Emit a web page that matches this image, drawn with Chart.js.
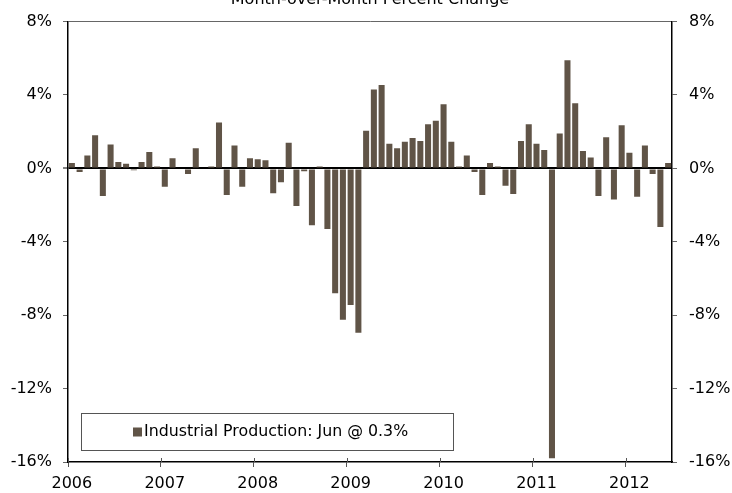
<!DOCTYPE html>
<html>
<head>
<meta charset="utf-8">
<script src="https://cdn.jsdelivr.net/npm/chart.js@4.4.1/dist/chart.umd.min.js"></script>
<style>
html,body{margin:0;padding:0;background:#fff;}
#wrap{width:732px;height:493px;position:relative;}
</style>
</head>
<body>
<div id="wrap"><canvas id="c" width="732" height="493"></canvas></div>
<script>
// ---- data ----
const years = ['2006','2007','2008','2009','2010','2011','2012'];
const months = ['Jan','Feb','Mar','Apr','May','Jun','Jul','Aug','Sep','Oct','Nov','Dec'];
const v2006 = [0.3, -0.2, 0.7, 1.8, -1.5, 1.3, 0.35, 0.25, -0.1, 0.35, 0.9, 0.1];
const v2007 = [-1.0, 0.55, 0.0, -0.3, 1.1, 0.0, 0.1, 2.5, -1.45, 1.25, -1.0, 0.55];
const v2008 = [0.5, 0.45, -1.35, -0.75, 1.4, -2.05, -0.15, -3.1, 0.1, -3.3, -6.8, -8.25];
const v2009 = [-7.45, -8.95, 2.05, 4.3, 4.55, 1.35, 1.1, 1.45, 1.65, 1.5, 2.4, 2.6];
const v2010 = [3.5, 1.45, 0.1, 0.7, -0.2, -1.45, 0.3, 0.1, -0.95, -1.4, 1.5, 2.4];
const v2011 = [1.35, 1.0, -15.8, 1.9, 5.9, 3.55, 0.95, 0.6, -1.5, 1.7, -1.7, 2.35];
const v2012 = [0.85, -1.55, 1.25, -0.3, -3.2, 0.3];
const seriesLabel = 'Industrial Production: Jun @ 0.3%';
const titleText = 'Month-over-Month Percent Change';
const yMin = -16, yMax = 8, yStep = 4;

const values = [].concat(v2006, v2007, v2008, v2009, v2010, v2011, v2012);
const categories = values.map((_, i) => months[i % 12] + ' ' + years[Math.floor(i / 12)]);

const barColor = '#605447';
const fontFamily = '"DejaVu Sans", Verdana, sans-serif';

const pct = v => v + '%';

const titlePlugin = {
  id: 'titlePlugin',
  afterDraw(chart) {
    const ctx = chart.ctx, a = chart.chartArea;
    ctx.save();
    ctx.font = '16px ' + fontFamily;
    ctx.fillStyle = '#000';
    ctx.textAlign = 'center';
    ctx.textBaseline = 'alphabetic';
    ctx.fillText(titleText, (a.left + a.right) / 2, 3.5);
    ctx.restore();
  }
};

const yearTicks = {
  id: 'yearTicks',
  afterDraw(chart) {
    const xs = chart.scales.x, a = chart.chartArea, ctx = chart.ctx;
    const half = (xs.getPixelForValue(1) - xs.getPixelForValue(0)) / 2;
    ctx.save();
    ctx.strokeStyle = '#555';
    ctx.lineWidth = 1;
    for (let i = 0; i < values.length; i += 12) {
      const x = Math.round(xs.getPixelForValue(i) - half) + 0.5;
      ctx.beginPath();
      ctx.moveTo(x, a.bottom - 4);
      ctx.lineTo(x, a.bottom);
      ctx.stroke();
    }
    ctx.restore();
  }
};

const legendBox = {
  id: 'legendBox',
  afterDatasetsDraw(chart) {
    const ctx = chart.ctx, a = chart.chartArea;
    const x0 = a.left + 13, y0 = a.bottom - 49, w = 372, h = 37;
    ctx.save();
    ctx.fillStyle = '#fff';
    ctx.fillRect(x0, y0, w, h);
    ctx.strokeStyle = '#555';
    ctx.lineWidth = 1;
    ctx.strokeRect(x0 + 0.5, y0 + 0.5, w, h);
    const cy = y0 + h / 2 + 0.5;
    ctx.fillStyle = barColor;
    ctx.fillRect(x0 + 52, cy - 4.5, 9, 9);
    ctx.fillStyle = '#000';
    ctx.font = '15.8px ' + fontFamily;
    ctx.textAlign = 'left';
    ctx.textBaseline = 'middle';
    ctx.fillText(seriesLabel, x0 + 63, cy);
    ctx.restore();
  }
};

new Chart(document.getElementById('c'), {
  type: 'bar',
  data: {
    labels: categories,
    datasets: [{
      label: seriesLabel,
      data: values,
      yAxisID: 'y',
      backgroundColor: barColor,
      borderWidth: 0,
      barPercentage: 0.78,
      categoryPercentage: 1.0
    }]
  },
  options: {
    responsive: false,
    animation: false,
    layout: { padding: { top: 17, left: 0, right: 0, bottom: 0 } },
    plugins: { legend: { display: false }, tooltip: { enabled: false }, title: { display: false } },
    scales: {
      x: {
        type: 'category',
        offset: true,
        grid: {
          offset: true,
          drawOnChartArea: false,
          tickLength: 5,
          color: c => (c.index % 12 === 0) ? '#555' : 'rgba(0,0,0,0)'
        },
        border: { color: '#000', width: 1.5 },
        ticks: {
          autoSkip: false,
          maxRotation: 0,
          minRotation: 0,
          padding: 7,
          color: '#000',
          font: { family: fontFamily, size: 16 },
          callback: (v, i) => (i % 12 === 0) ? years[i / 12] : ''
        },
        afterFit: s => { s.height = 31; }
      },
      y: {
        position: 'left',
        min: yMin, max: yMax,
        z: 1,
        ticks: { stepSize: yStep, padding: 11, color: '#000', font: { family: fontFamily, size: 16 }, callback: pct },
        grid: {
          drawOnChartArea: true,
          tickLength: 5,
          color: c => c.tick && c.tick.value === 0 ? '#000' : (c.tick && c.tick.value === yMax ? '#666' : 'rgba(0,0,0,0)'),
          tickColor: c => c.tick && c.tick.value === 0 ? '#000' : '#666',
          lineWidth: c => c.tick && c.tick.value === 0 ? 2 : 1,
          tickWidth: 1
        },
        border: { color: '#000', width: 1.5 },
        afterFit: s => { s.width = 68; }
      },
      y2: {
        position: 'right',
        min: yMin, max: yMax,
        ticks: { stepSize: yStep, padding: 12, color: '#000', font: { family: fontFamily, size: 16 }, callback: pct },
        grid: { drawOnChartArea: false, tickLength: 5, color: '#666' },
        border: { color: '#000', width: 1.5 },
        afterFit: s => { s.width = 60; }
      }
    }
  },
  plugins: [legendBox, yearTicks, titlePlugin]
});
</script>
</body>
</html>
